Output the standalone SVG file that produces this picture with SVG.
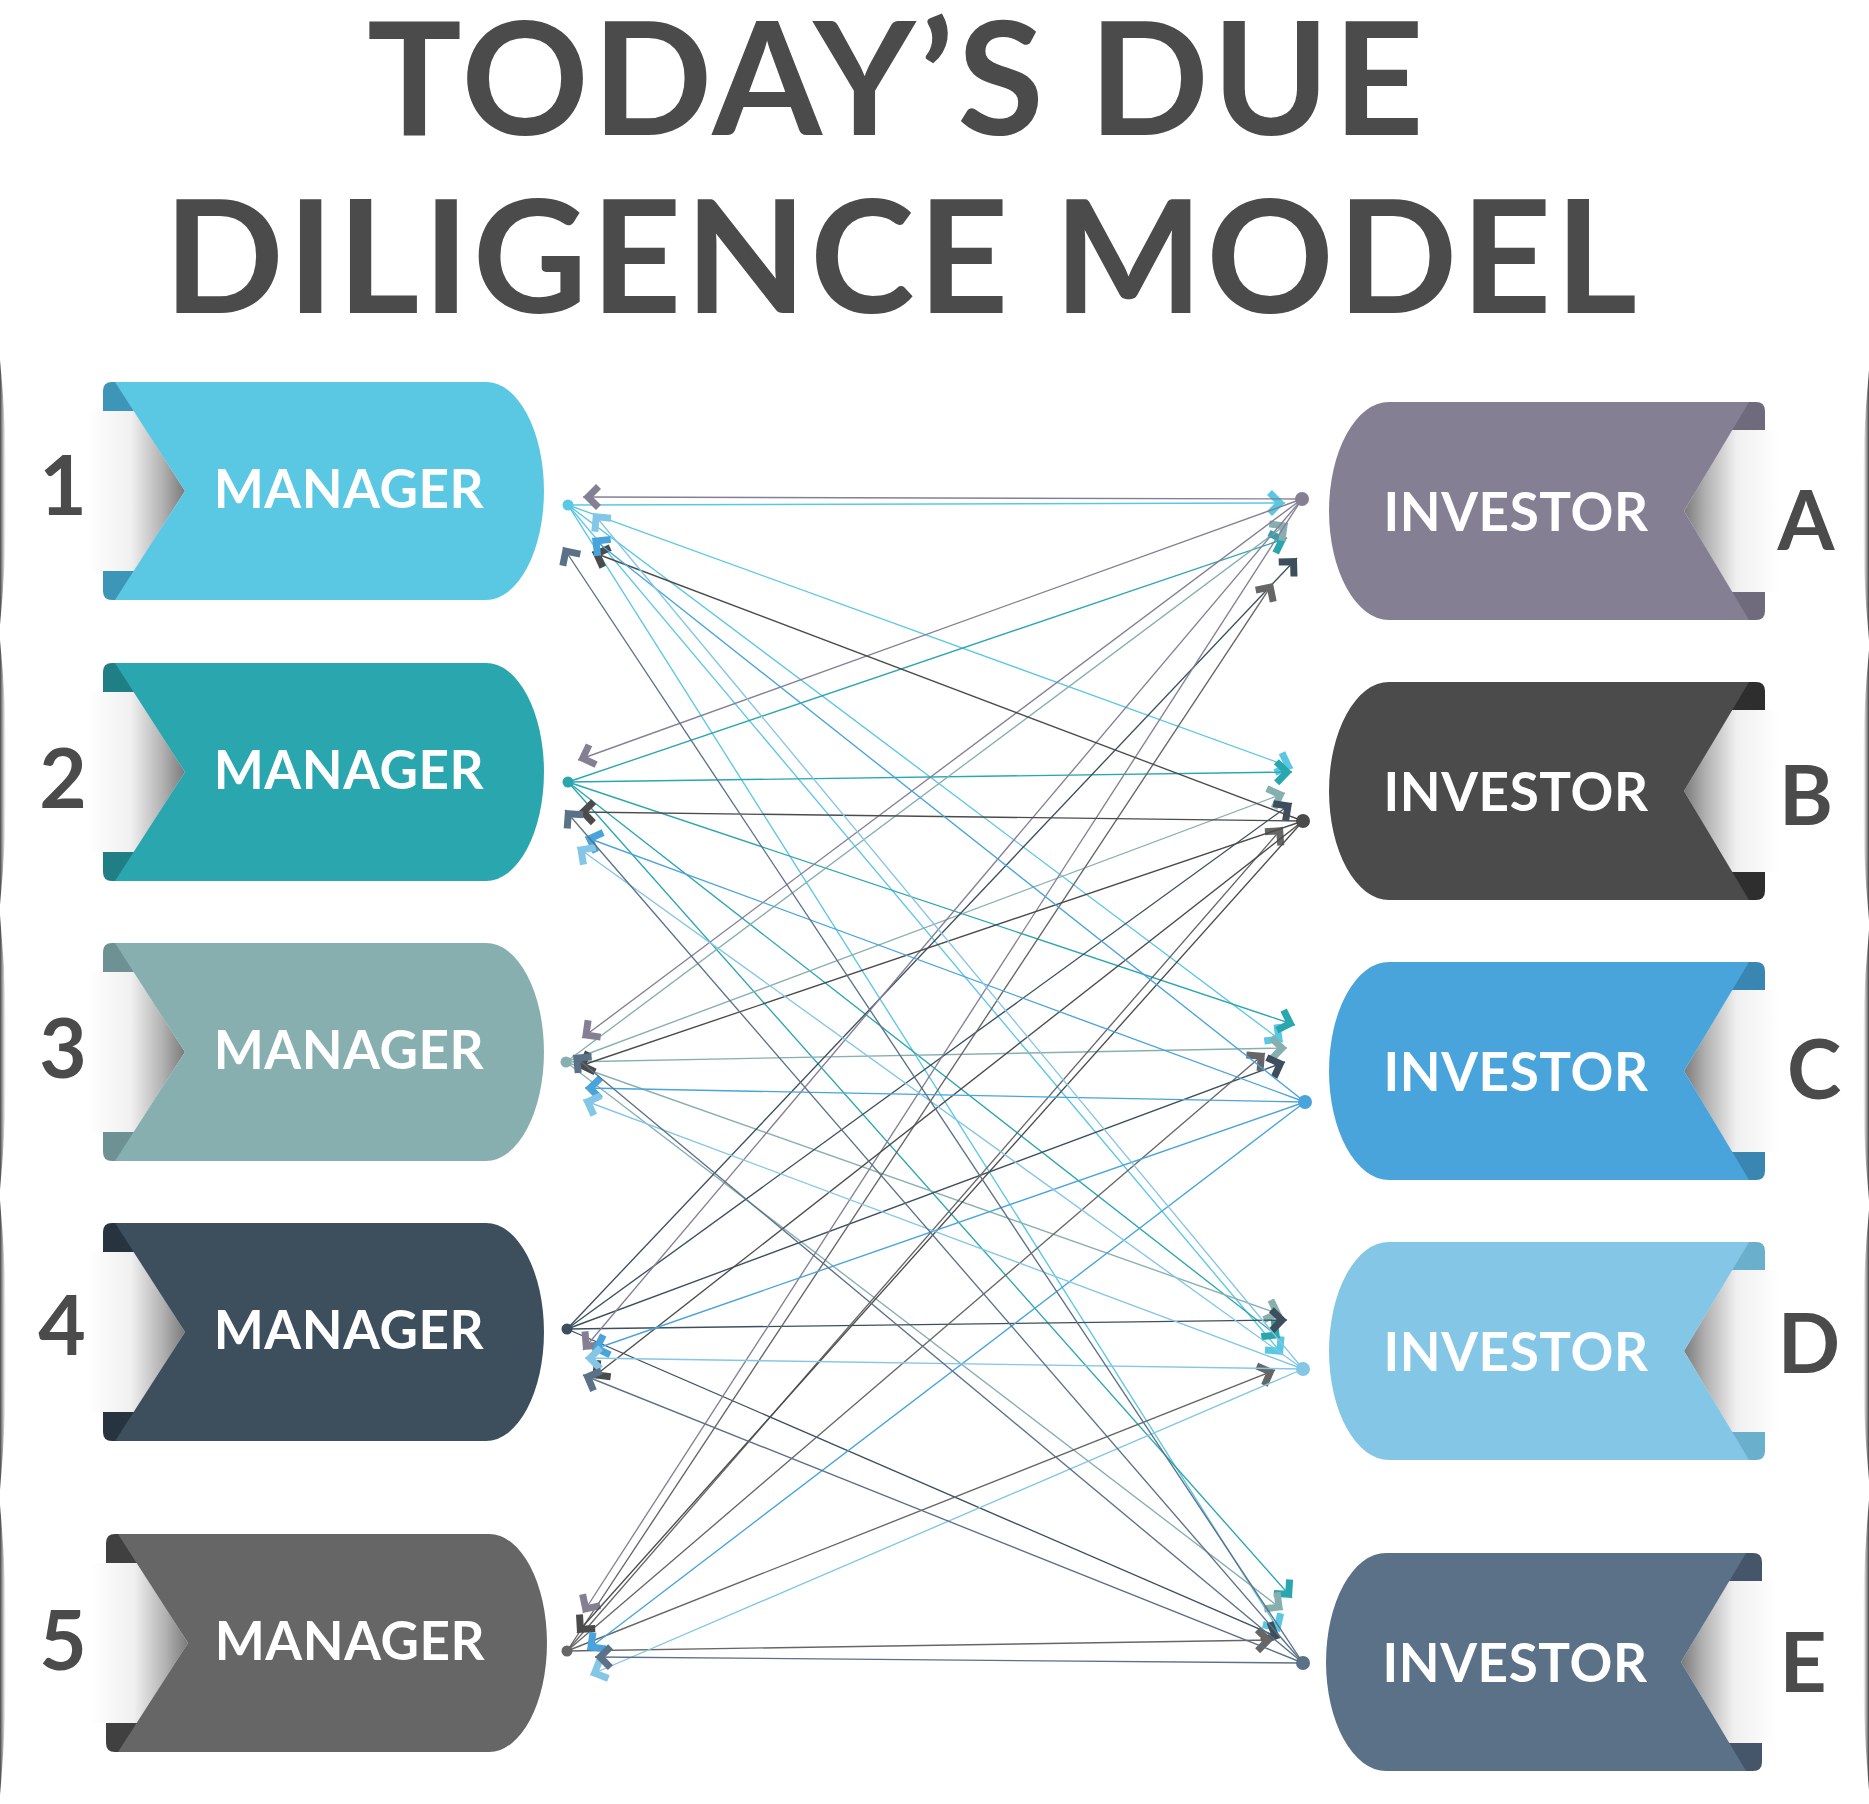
<svg xmlns="http://www.w3.org/2000/svg" width="1869" height="1804" viewBox="0 0 1869 1804">
<style>
.t{font-family:Lato,"Liberation Sans",sans-serif;font-weight:700;fill:#4b4b4b;text-anchor:middle}
.title{font-size:158px;letter-spacing:3.3px}
.num{font-size:82px}
.lbl{font-family:Lato,"Liberation Sans",sans-serif;font-weight:700;fill:#fff;font-size:53px;letter-spacing:0.6px;text-anchor:middle}
.ln{fill:none;stroke-width:1.35}
.c1{stroke:#5AC8E3}.c2{stroke:#2AA6AE}.c3{stroke:#88AFB0}.c4{stroke:#3D4F5D}.c5{stroke:#666666}
.cA{stroke:#857F94}.cB{stroke:#4B4B4B}.cC{stroke:#48A4DA}.cD{stroke:#84C6E5}.cE{stroke:#5B7187}
.mk{fill:none;stroke-width:7;stroke-linejoin:miter;stroke-linecap:butt}
</style>
<defs>
<linearGradient id="shL" x1="0" y1="0" x2="1" y2="0">
<stop offset="0" stop-color="#ffffff"/><stop offset="0.45" stop-color="#f0f0f0"/><stop offset="0.78" stop-color="#b0b0b0"/><stop offset="1" stop-color="#7a7a7a"/>
</linearGradient>
<linearGradient id="shR" x1="1" y1="0" x2="0" y2="0">
<stop offset="0" stop-color="#ffffff"/><stop offset="0.45" stop-color="#f0f0f0"/><stop offset="0.78" stop-color="#b0b0b0"/><stop offset="1" stop-color="#7a7a7a"/>
</linearGradient>
<linearGradient id="edL" x1="0" y1="0" x2="1" y2="0">
<stop offset="0" stop-color="#444"/><stop offset="0.5" stop-color="#888" stop-opacity="0.6"/><stop offset="1" stop-color="#fff" stop-opacity="0"/>
</linearGradient>
<linearGradient id="edR" x1="1" y1="0" x2="0" y2="0">
<stop offset="0" stop-color="#444"/><stop offset="0.5" stop-color="#888" stop-opacity="0.6"/><stop offset="1" stop-color="#fff" stop-opacity="0"/>
</linearGradient>
<marker id="m1" markerUnits="userSpaceOnUse" orient="auto" refX="5" refY="0" markerWidth="30" markerHeight="30" viewBox="-15 -15 30 30" overflow="visible"><path class="mk" d="M-10.5,-10.5 L0,0 L-10.5,10.5" stroke="#5AC8E3"/></marker>
<marker id="m2" markerUnits="userSpaceOnUse" orient="auto" refX="5" refY="0" markerWidth="30" markerHeight="30" viewBox="-15 -15 30 30" overflow="visible"><path class="mk" d="M-10.5,-10.5 L0,0 L-10.5,10.5" stroke="#2AA6AE"/></marker>
<marker id="m3" markerUnits="userSpaceOnUse" orient="auto" refX="5" refY="0" markerWidth="30" markerHeight="30" viewBox="-15 -15 30 30" overflow="visible"><path class="mk" d="M-10.5,-10.5 L0,0 L-10.5,10.5" stroke="#88AFB0"/></marker>
<marker id="m4" markerUnits="userSpaceOnUse" orient="auto" refX="5" refY="0" markerWidth="30" markerHeight="30" viewBox="-15 -15 30 30" overflow="visible"><path class="mk" d="M-10.5,-10.5 L0,0 L-10.5,10.5" stroke="#3D4F5D"/></marker>
<marker id="m5" markerUnits="userSpaceOnUse" orient="auto" refX="5" refY="0" markerWidth="30" markerHeight="30" viewBox="-15 -15 30 30" overflow="visible"><path class="mk" d="M-10.5,-10.5 L0,0 L-10.5,10.5" stroke="#666666"/></marker>
<marker id="mA" markerUnits="userSpaceOnUse" orient="auto" refX="5" refY="0" markerWidth="30" markerHeight="30" viewBox="-15 -15 30 30" overflow="visible"><path class="mk" d="M-10.5,-10.5 L0,0 L-10.5,10.5" stroke="#857F94"/></marker>
<marker id="mB" markerUnits="userSpaceOnUse" orient="auto" refX="5" refY="0" markerWidth="30" markerHeight="30" viewBox="-15 -15 30 30" overflow="visible"><path class="mk" d="M-10.5,-10.5 L0,0 L-10.5,10.5" stroke="#4B4B4B"/></marker>
<marker id="mC" markerUnits="userSpaceOnUse" orient="auto" refX="5" refY="0" markerWidth="30" markerHeight="30" viewBox="-15 -15 30 30" overflow="visible"><path class="mk" d="M-10.5,-10.5 L0,0 L-10.5,10.5" stroke="#48A4DA"/></marker>
<marker id="mD" markerUnits="userSpaceOnUse" orient="auto" refX="5" refY="0" markerWidth="30" markerHeight="30" viewBox="-15 -15 30 30" overflow="visible"><path class="mk" d="M-10.5,-10.5 L0,0 L-10.5,10.5" stroke="#84C6E5"/></marker>
<marker id="mE" markerUnits="userSpaceOnUse" orient="auto" refX="5" refY="0" markerWidth="30" markerHeight="30" viewBox="-15 -15 30 30" overflow="visible"><path class="mk" d="M-10.5,-10.5 L0,0 L-10.5,10.5" stroke="#5B7187"/></marker>
</defs>
<rect width="1869" height="1804" fill="#ffffff"/>

<g id="edges">
<path d="M0,360 Q13,492 0,625 Z" fill="url(#edL)"/>
<path d="M0,640 Q13,772 0,905 Z" fill="url(#edL)"/>
<path d="M0,915 Q13,1052 0,1190 Z" fill="url(#edL)"/>
<path d="M0,1200 Q13,1345 0,1490 Z" fill="url(#edL)"/>
<path d="M0,1505 Q13,1650 0,1795 Z" fill="url(#edL)"/>
<path d="M1869,370 Q1856,505 1869,640 Z" fill="url(#edR)"/>
<path d="M1869,650 Q1856,785 1869,920 Z" fill="url(#edR)"/>
<path d="M1869,930 Q1856,1065 1869,1200 Z" fill="url(#edR)"/>
<path d="M1869,1210 Q1856,1345 1869,1480 Z" fill="url(#edR)"/>
<path d="M1869,1500 Q1856,1645 1869,1790 Z" fill="url(#edR)"/>
</g>

<g id="title">
<text class="t title" x="897" y="135">TODAY’S DUE</text>
<text class="t title" x="902" y="313">DILIGENCE MODEL</text>
</g>

<g id="manager-1" transform="translate(103,382)">
<path d="M0,29 V9 Q0,0 9,0 H45 V29 Z" fill="#3D96B8"/>
<path d="M0,189 V209 Q0,218 9,218 H45 V189 Z" fill="#3D96B8"/>
<polygon points="-16,29 31,29 82,109 31,189 -16,189" fill="url(#shL)"/>
<path d="M12,0 H383 A58,109 0 0 1 383,218 H12 L82,109 Z" fill="#5AC8E3"/>
<text class="lbl" x="246" y="126">MANAGER</text>
<text class="t num" x="-40" y="133">1</text>
</g>
<g id="manager-2" transform="translate(103,663)">
<path d="M0,29 V9 Q0,0 9,0 H45 V29 Z" fill="#1F7F85"/>
<path d="M0,189 V209 Q0,218 9,218 H45 V189 Z" fill="#1F7F85"/>
<polygon points="-16,29 31,29 82,109 31,189 -16,189" fill="url(#shL)"/>
<path d="M12,0 H383 A58,109 0 0 1 383,218 H12 L82,109 Z" fill="#2AA6AE"/>
<text class="lbl" x="246" y="126">MANAGER</text>
<text class="t num" x="-40" y="145">2</text>
</g>
<g id="manager-3" transform="translate(103,943)">
<path d="M0,29 V9 Q0,0 9,0 H45 V29 Z" fill="#6E9193"/>
<path d="M0,189 V209 Q0,218 9,218 H45 V189 Z" fill="#6E9193"/>
<polygon points="-16,29 31,29 82,109 31,189 -16,189" fill="url(#shL)"/>
<path d="M12,0 H383 A58,109 0 0 1 383,218 H12 L82,109 Z" fill="#88AFB0"/>
<text class="lbl" x="246" y="126">MANAGER</text>
<text class="t num" x="-40" y="135">3</text>
</g>
<g id="manager-4" transform="translate(103,1223)">
<path d="M0,29 V9 Q0,0 9,0 H45 V29 Z" fill="#27343F"/>
<path d="M0,189 V209 Q0,218 9,218 H45 V189 Z" fill="#27343F"/>
<polygon points="-16,29 31,29 82,109 31,189 -16,189" fill="url(#shL)"/>
<path d="M12,0 H383 A58,109 0 0 1 383,218 H12 L82,109 Z" fill="#3D4F5D"/>
<text class="lbl" x="246" y="126">MANAGER</text>
<text class="t num" x="-41" y="132">4</text>
</g>
<g id="manager-5" transform="translate(106,1534)">
<path d="M0,29 V9 Q0,0 9,0 H45 V29 Z" fill="#404040"/>
<path d="M0,189 V209 Q0,218 9,218 H45 V189 Z" fill="#404040"/>
<polygon points="-16,29 31,29 82,109 31,189 -16,189" fill="url(#shL)"/>
<path d="M12,0 H383 A58,109 0 0 1 383,218 H12 L82,109 Z" fill="#666666"/>
<text class="lbl" x="244" y="126">MANAGER</text>
<text class="t num" x="-43" y="136">5</text>
</g>

<g id="investor-A" transform="translate(1329,402)">
<path d="M436,29 V9 Q436,0 427,0 H395 V29 Z" fill="#6F6A7C"/>
<path d="M436,189 V209 Q436,218 427,218 H395 V189 Z" fill="#6F6A7C"/>
<polygon points="403,28 451,28 451,190 403,190 355,109" fill="url(#shR)"/>
<path d="M60,0 H420 L355,109 L420,218 H60 A60,109 0 0 1 60,0 Z" fill="#857F94"/>
<text class="lbl" x="187" y="129">INVESTOR</text>
<text class="t num" x="477" y="148">A</text>
</g>
<g id="investor-B" transform="translate(1329,682)">
<path d="M436,29 V9 Q436,0 427,0 H395 V29 Z" fill="#2E2E2E"/>
<path d="M436,189 V209 Q436,218 427,218 H395 V189 Z" fill="#2E2E2E"/>
<polygon points="403,28 451,28 451,190 403,190 355,109" fill="url(#shR)"/>
<path d="M60,0 H420 L355,109 L420,218 H60 A60,109 0 0 1 60,0 Z" fill="#4B4B4B"/>
<text class="lbl" x="187" y="129">INVESTOR</text>
<text class="t num" x="477" y="143">B</text>
</g>
<g id="investor-C" transform="translate(1329,962)">
<path d="M436,29 V9 Q436,0 427,0 H395 V29 Z" fill="#3A86B3"/>
<path d="M436,189 V209 Q436,218 427,218 H395 V189 Z" fill="#3A86B3"/>
<polygon points="403,28 451,28 451,190 403,190 355,109" fill="url(#shR)"/>
<path d="M60,0 H420 L355,109 L420,218 H60 A60,109 0 0 1 60,0 Z" fill="#48A4DA"/>
<text class="lbl" x="187" y="129">INVESTOR</text>
<text class="t num" x="485" y="137">C</text>
</g>
<g id="investor-D" transform="translate(1329,1242)">
<path d="M436,29 V9 Q436,0 427,0 H395 V29 Z" fill="#6AAFCB"/>
<path d="M436,189 V209 Q436,218 427,218 H395 V189 Z" fill="#6AAFCB"/>
<polygon points="403,28 451,28 451,190 403,190 355,109" fill="url(#shR)"/>
<path d="M60,0 H420 L355,109 L420,218 H60 A60,109 0 0 1 60,0 Z" fill="#84C6E5"/>
<text class="lbl" x="187" y="129">INVESTOR</text>
<text class="t num" x="480" y="131">D</text>
</g>
<g id="investor-E" transform="translate(1326,1553)">
<path d="M436,29 V9 Q436,0 427,0 H395 V29 Z" fill="#45566A"/>
<path d="M436,189 V209 Q436,218 427,218 H395 V189 Z" fill="#45566A"/>
<polygon points="403,28 451,28 451,190 403,190 355,109" fill="url(#shR)"/>
<path d="M60,0 H420 L355,109 L420,218 H60 A60,109 0 0 1 60,0 Z" fill="#5B7187"/>
<text class="lbl" x="189" y="129">INVESTOR</text>
<text class="t num" x="477" y="139">E</text>
</g>

<g id="connectors">
<line class="ln c1" x1="568" y1="505" x2="1285" y2="503" marker-end="url(#m1)"/>
<line class="ln c1" x1="568" y1="505" x2="1293" y2="768" marker-end="url(#m1)"/>
<line class="ln c1" x1="568" y1="505" x2="1283" y2="1042" marker-end="url(#m1)"/>
<line class="ln c1" x1="568" y1="505" x2="1283" y2="1355" marker-end="url(#m1)"/>
<line class="ln c1" x1="568" y1="505" x2="1280" y2="1632" marker-end="url(#m1)"/>
<line class="ln c2" x1="568" y1="782" x2="1287" y2="538" marker-end="url(#m2)"/>
<line class="ln c2" x1="568" y1="782" x2="1292" y2="772" marker-end="url(#m2)"/>
<line class="ln c2" x1="568" y1="782" x2="1295" y2="1025" marker-end="url(#m2)"/>
<line class="ln c2" x1="568" y1="782" x2="1280" y2="1338" marker-end="url(#m2)"/>
<line class="ln c2" x1="568" y1="782" x2="1292" y2="1598" marker-end="url(#m2)"/>
<line class="ln c3" x1="566" y1="1062" x2="1288" y2="523" marker-end="url(#m3)"/>
<line class="ln c3" x1="566" y1="1062" x2="1285" y2="793" marker-end="url(#m3)"/>
<line class="ln c3" x1="566" y1="1062" x2="1287" y2="1048" marker-end="url(#m3)"/>
<line class="ln c3" x1="566" y1="1062" x2="1282" y2="1315" marker-end="url(#m3)"/>
<line class="ln c3" x1="566" y1="1062" x2="1283" y2="1610" marker-end="url(#m3)"/>
<line class="ln c4" x1="567" y1="1329" x2="1297" y2="558" marker-end="url(#m4)"/>
<line class="ln c4" x1="567" y1="1329" x2="1292" y2="803" marker-end="url(#m4)"/>
<line class="ln c4" x1="567" y1="1329" x2="1285" y2="1062" marker-end="url(#m4)"/>
<line class="ln c4" x1="567" y1="1329" x2="1287" y2="1320" marker-end="url(#m4)"/>
<line class="ln c4" x1="567" y1="1329" x2="1280" y2="1638" marker-end="url(#m4)"/>
<line class="ln c5" x1="567" y1="1651" x2="1273" y2="583" marker-end="url(#m5)"/>
<line class="ln c5" x1="567" y1="1651" x2="1283" y2="827" marker-end="url(#m5)"/>
<line class="ln c5" x1="567" y1="1651" x2="1265" y2="1053" marker-end="url(#m5)"/>
<line class="ln c5" x1="567" y1="1651" x2="1275" y2="1370" marker-end="url(#m5)"/>
<line class="ln c5" x1="567" y1="1651" x2="1273" y2="1640" marker-end="url(#m5)"/>

<line class="ln cA" x1="1302" y1="499" x2="583" y2="497" marker-end="url(#mA)"/>
<line class="ln cA" x1="1302" y1="499" x2="578" y2="760" marker-end="url(#mA)"/>
<line class="ln cA" x1="1302" y1="499" x2="582" y2="1038" marker-end="url(#mA)"/>
<line class="ln cA" x1="1302" y1="499" x2="583" y2="1350" marker-end="url(#mA)"/>
<line class="ln cA" x1="1302" y1="499" x2="583" y2="1613" marker-end="url(#mA)"/>
<line class="ln cB" x1="1303" y1="821" x2="592" y2="552" marker-end="url(#mB)"/>
<line class="ln cB" x1="1303" y1="821" x2="578" y2="812" marker-end="url(#mB)"/>
<line class="ln cB" x1="1303" y1="821" x2="577" y2="1067" marker-end="url(#mB)"/>
<line class="ln cB" x1="1303" y1="821" x2="592" y2="1378" marker-end="url(#mB)"/>
<line class="ln cB" x1="1303" y1="821" x2="577" y2="1633" marker-end="url(#mB)"/>
<line class="ln cC" x1="1305" y1="1102" x2="592" y2="538" marker-end="url(#mC)"/>
<line class="ln cC" x1="1305" y1="1102" x2="585" y2="837" marker-end="url(#mC)"/>
<line class="ln cC" x1="1305" y1="1102" x2="585" y2="1088" marker-end="url(#mC)"/>
<line class="ln cC" x1="1305" y1="1102" x2="592" y2="1350" marker-end="url(#mC)"/>
<line class="ln cC" x1="1305" y1="1102" x2="587" y2="1650" marker-end="url(#mC)"/>
<line class="ln cD" x1="1303" y1="1369" x2="593" y2="513" marker-end="url(#mD)"/>
<line class="ln cD" x1="1303" y1="1369" x2="577" y2="847" marker-end="url(#mD)"/>
<line class="ln cD" x1="1303" y1="1369" x2="583" y2="1100" marker-end="url(#mD)"/>
<line class="ln cD" x1="1303" y1="1369" x2="585" y2="1358" marker-end="url(#mD)"/>
<line class="ln cD" x1="1303" y1="1369" x2="590" y2="1675" marker-end="url(#mD)"/>
<line class="ln cE" x1="1303" y1="1663" x2="563" y2="547" marker-end="url(#mE)"/>
<line class="ln cE" x1="1303" y1="1663" x2="565" y2="810" marker-end="url(#mE)"/>
<line class="ln cE" x1="1303" y1="1663" x2="573" y2="1055" marker-end="url(#mE)"/>
<line class="ln cE" x1="1303" y1="1663" x2="583" y2="1375" marker-end="url(#mE)"/>
<line class="ln cE" x1="1303" y1="1663" x2="595" y2="1657" marker-end="url(#mE)"/>
</g>

<g id="dots">
<circle cx="568" cy="505" r="5.5" fill="#5AC8E3"/>
<circle cx="568" cy="782" r="5.5" fill="#2AA6AE"/>
<circle cx="566" cy="1062" r="5.5" fill="#88AFB0"/>
<circle cx="567" cy="1329" r="5.5" fill="#3D4F5D"/>
<circle cx="567" cy="1651" r="5.5" fill="#666666"/>
<circle cx="1302" cy="499" r="7" fill="#857F94"/>
<circle cx="1303" cy="821" r="7" fill="#4B4B4B"/>
<circle cx="1305" cy="1102" r="7" fill="#48A4DA"/>
<circle cx="1303" cy="1369" r="7" fill="#84C6E5"/>
<circle cx="1303" cy="1663" r="7" fill="#5B7187"/>
</g>
</svg>
